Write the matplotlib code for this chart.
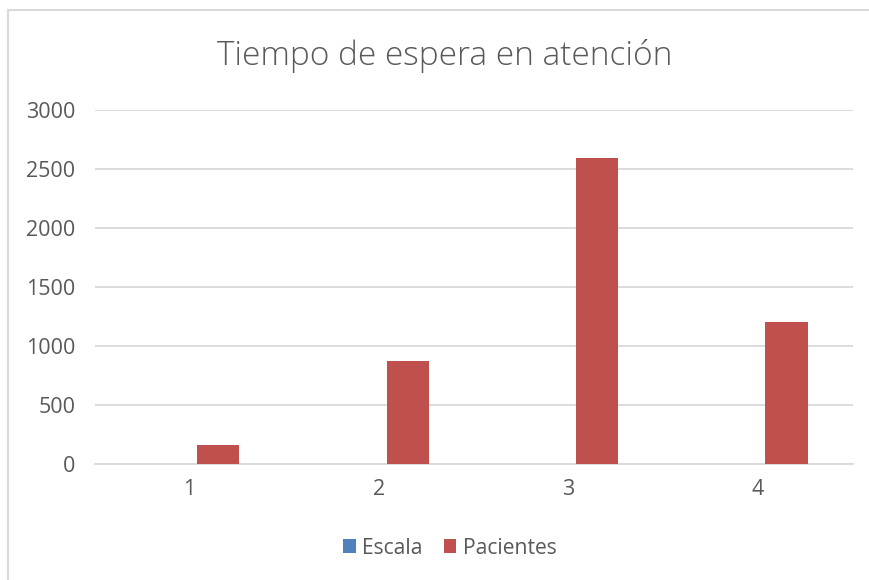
import matplotlib.pyplot as plt
import numpy as np
from matplotlib.lines import Line2D

categories = ["1", "2", "3", "4"]
escala = [1, 2, 3, 4]
pacientes = [160, 870, 2590, 1200]
yticks = [0, 500, 1000, 1500, 2000, 2500, 3000]

blue = "#4F81BD"
red = "#C0504D"
grey_txt = "#595959"
grid_col = "#D9D9D9"

plt.rcParams['font.family'] = ['Open Sans', 'DejaVu Sans']

fig = plt.figure(figsize=(8.7, 5.8), dpi=100)
ax = fig.add_axes([0.109, 0.2, 0.871, 0.6103])

x = np.arange(len(categories))
w = 0.222
off = w / 2 + 0.04
ax.bar(x - off, escala, w, color=blue, label="Escala", zorder=3)
ax.bar(x + off, pacientes, w, color=red, label="Pacientes", zorder=3)

ax.set_xlim(-0.5, len(categories) - 0.5)
ax.set_ylim(0, 3000)
ax.set_yticks(yticks)
ax.set_xticks(x)
ax.set_xticklabels(categories)
ax.yaxis.grid(True, color=grid_col, linewidth=1.3, zorder=0)
ax.set_axisbelow(True)
for s in ["top", "right", "left"]:
    ax.spines[s].set_visible(False)
ax.spines["bottom"].set_color(grid_col)
ax.spines["bottom"].set_linewidth(1.3)
ax.tick_params(axis="both", length=0, labelsize=15.5, colors=grey_txt)
ax.tick_params(axis="y", pad=14)
ax.tick_params(axis="x", pad=11)

fig.text(0.511, 0.903, "Tiempo de espera en atención", ha="center", va="center",
         fontsize=24, color=grey_txt, fontweight="light")

ax.legend(loc="center", ncol=2, frameon=False, fontsize=15.2,
          labelcolor=grey_txt, handlelength=0.6, handleheight=0.6,
          handletextpad=0.3, columnspacing=1.0,
          bbox_to_anchor=(0.517, 0.055), bbox_transform=fig.transFigure)

# chart frame (top and left edges)
fig.add_artist(Line2D([0.0092, 1.0], [0.982, 0.982], color=grid_col, linewidth=1.5,
                      transform=fig.transFigure))
fig.add_artist(Line2D([0.0092, 0.0092], [0.0, 0.982], color=grid_col, linewidth=1.5,
                      transform=fig.transFigure))

fig.savefig("out.png", dpi=100)
